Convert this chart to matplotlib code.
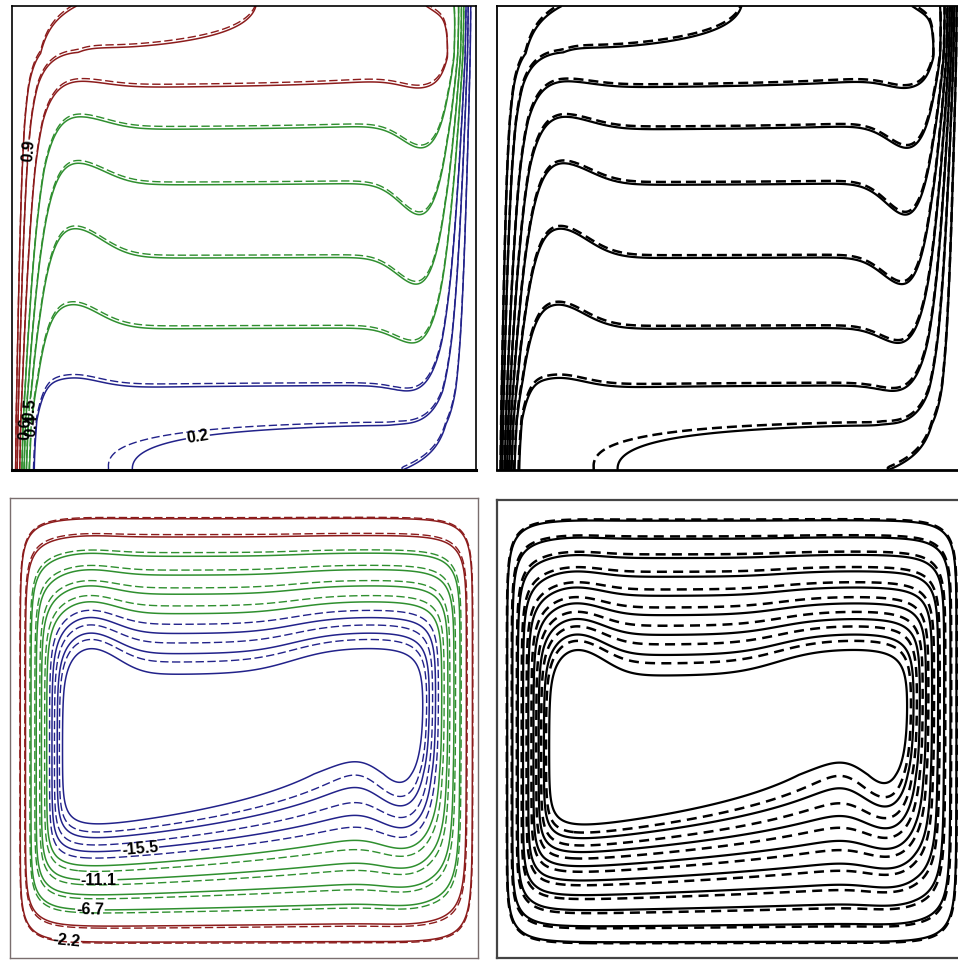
import numpy as np
import matplotlib.pyplot as plt

# isotherms (top row)
t_levels = [0.1, 0.2, 0.3, 0.4, 0.5, 0.6, 0.7, 0.8, 0.9, 0.95]
t_colors = ['#22228a'] * 3 + ['#2f8f2f'] * 4 + ['#8c1c1c'] * 3
# temperature in the core against height
core_T = [0.16, 0.2, 0.3, 0.4, 0.5, 0.6, 0.7, 0.8, 0.9, 0.93]
core_y = [0.0, 0.103, 0.183, 0.306, 0.457, 0.614, 0.733, 0.823, 0.894, 1.0]
t_labels = {0.9: (0.018, 0.69), 0.6: (0.02, 0.09), 0.5: (0.04, 0.13),
            0.4: (0.06, 0.095), 0.2: (0.4, 0.075)}

# streamlines (bottom row)
psi_levels = [-19.9, -17.7, -15.5, -13.3, -11.1, -8.9, -6.7, -4.4, -2.2]
psi_colors = ['#22228a'] * 3 + ['#2f8f2f'] * 4 + ['#8c1c1c'] * 2
psi_labels = {-2.2: (0.12, 0.035), -6.7: (0.17, 0.07), -11.1: (0.19, 0.13),
              -15.5: (0.28, 0.21)}
# distance of the -2.2 and -19.9 streamlines from each wall (left, right, bottom, top)
psi_outer = [0.022, 0.012, 0.035, 0.045]
psi_inner = [0.112, 0.116, 0.325, 0.355]

plt.rcParams['font.family'] = ['Liberation Sans', 'DejaVu Sans']
plt.rcParams['contour.negative_linestyle'] = 'solid'

x = np.linspace(0, 1, 401)
X, Y = np.meshgrid(x, x)


def temperature(x, y, dy=0.0, warm=0.095):
    y = np.clip(y - dy, 0, 1)
    bump = 0.065 * np.sin(np.pi * y) ** 2 * (np.exp(-((x - 0.13) / 0.09) ** 2)
                                             - 1.1 * np.exp(-((x - 0.885) / 0.07) ** 2))
    tc = np.interp(y - bump, core_y, core_T)
    tc = tc + warm * np.exp(-x / 0.3) * np.exp(-y / 0.1)
    tc = tc - 0.2 * np.exp(-(1 - x) / 0.25) * np.exp(-(1 - y) / 0.12)
    dl = 0.03 + 0.045 * y + 0.06 * np.exp(-(1 - y) / 0.04)
    dr = 0.03 + 0.045 * (1 - y) + 0.09 * np.exp(-y / 0.04)
    t = tc + (1 - tc) * np.exp(-(x / dl) ** 2)
    return t * (1 - np.exp(-((1 - x) / dr) ** 2))


def stream(x, y, gain=1.0, rho=0.04):
    xc = np.clip(x, 0.1, 0.9)
    beta_b = 0.16 - 0.67 * (xc - 0.18) + 0.2 * np.exp(-((x - 0.86) / 0.08) ** 2)
    beta_t = (-0.07 + 0.2 * np.exp(-((x - 0.16) / 0.08) ** 2)
              + 0.09 * (1 + np.tanh((x - 0.62) / 0.1)))
    db = y * (1 + beta_b * np.clip(y, 0, 0.4) / 0.33)
    dt = (1 - y) * (1 + beta_t * np.clip(1 - y, 0, 0.42) / 0.36)
    walls = [x, 1 - x, db, dt]
    n = len(psi_levels)
    lo = np.full(x.shape, -0.3)
    hi = np.full(x.shape, 1.6)
    # level index r: streamline k sits where the smoothed distance to the inset box is zero
    for _ in range(40):
        mid = 0.5 * (lo + hi)
        z = [d - (o + (i - o) * (mid - 1 / n) / (1 - 1 / n))
             for d, o, i in zip(walls, psi_outer, psi_inner)]
        g = -rho * np.log(sum(np.exp(-np.clip(zz, -1, None) / rho) for zz in z))
        lo = np.where(g > 0, mid, lo)
        hi = np.where(g > 0, hi, mid)
    r = 0.5 * (lo + hi)
    return gain * r * psi_levels[0]


T1 = temperature(X, Y)
T2 = temperature(X, Y, dy=0.006, warm=0.08)
P1 = stream(X, Y)
P2 = stream(X, Y, gain=1.07)

fig = plt.figure(figsize=(9.58, 9.61), dpi=100)
ax_tl = fig.add_axes([12 / 958, 1 - 470 / 961, 464 / 958, 464 / 961])
ax_tr = fig.add_axes([497 / 958, 1 - 470 / 961, 465 / 958, 464 / 961])
ax_bl = fig.add_axes([10 / 958, 1 - 958 / 961, 468 / 958, 460 / 961])
ax_br = fig.add_axes([497 / 958, 1 - 958 / 961, 465 / 958, 458 / 961])

for ax in (ax_tl, ax_tr, ax_bl, ax_br):
    ax.set_xlim(0, 1)
    ax.set_ylim(0, 1)
    ax.set_xticks([])
    ax.set_yticks([])


def coloured(ax, f_solid, f_dash, levels, colors, labels):
    ax.contour(X, Y, f_dash, levels=levels, colors=colors, linewidths=1.0,
               linestyles=[(0, (6, 2.5))])
    for lev, col in zip(levels, colors):
        cs = ax.contour(X, Y, f_solid, levels=[lev], colors=[col], linewidths=1.1,
                        linestyles='solid')
        if lev in labels:
            txt = ax.clabel(cs, manual=[labels[lev]], fmt={lev: f'{lev:.1f}'}, fontsize=11.5,
                            inline=True, inline_spacing=1, colors='black')
            for t in txt:
                t.set_fontweight('bold')


coloured(ax_tl, T1, T2, t_levels, t_colors, t_labels)
coloured(ax_bl, P1, P2, psi_levels, psi_colors, psi_labels)

# black panels
ax_tr.contour(X, Y, T2, levels=t_levels, colors='black', linewidths=1.8,
              linestyles=[(0, (4, 2))])
ax_tr.contour(X, Y, T1, levels=t_levels, colors='black', linewidths=1.6,
              linestyles='solid')
ax_br.contour(X, Y, P2, levels=psi_levels, colors='black', linewidths=1.8,
              linestyles=[(0, (4, 2.5))])
ax_br.contour(X, Y, P1, levels=psi_levels, colors='black', linewidths=1.6,
              linestyles='solid')

for s in ax_tl.spines.values():
    s.set_linewidth(1.2)
ax_tl.spines['bottom'].set_linewidth(2.2)
for s in ax_tr.spines.values():
    s.set_linewidth(1.3)
ax_tr.spines['bottom'].set_linewidth(2.0)
for s in ax_bl.spines.values():
    s.set_linewidth(1.0)
    s.set_color('#7a6e6e')
for s in ax_br.spines.values():
    s.set_linewidth(1.6)
    s.set_color('#444444')

fig.savefig('out.png', dpi=100)
